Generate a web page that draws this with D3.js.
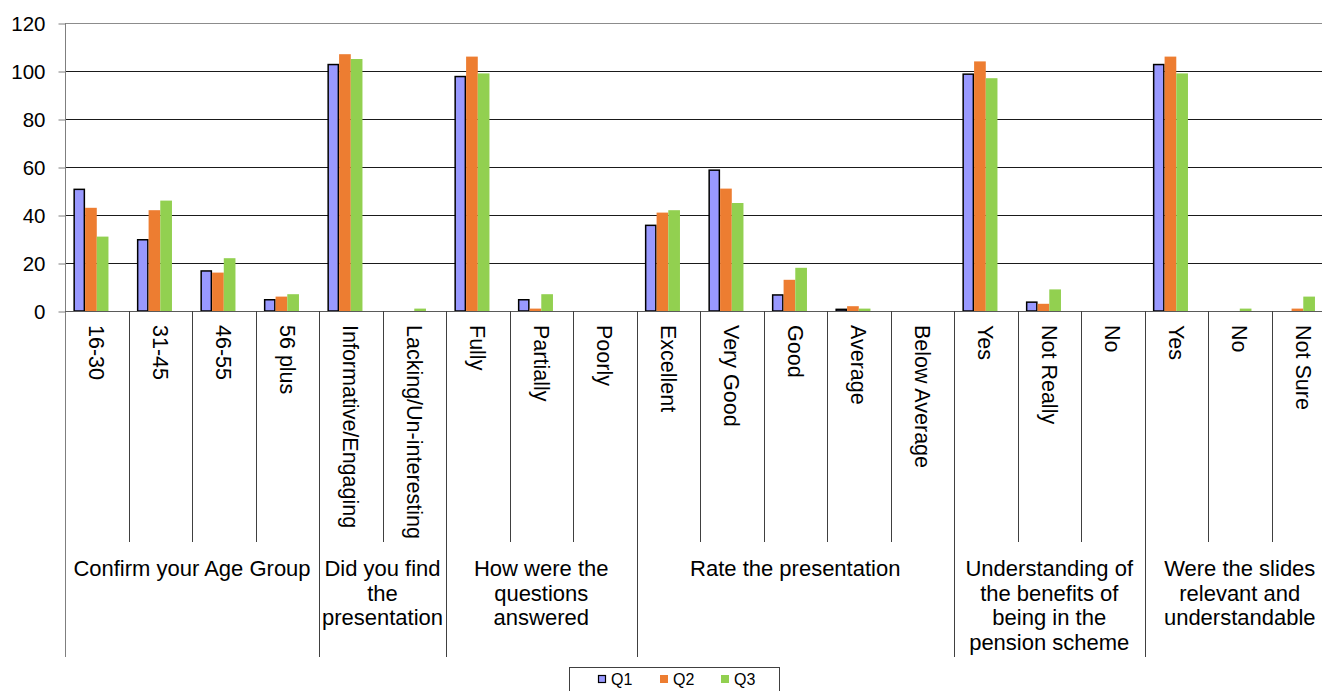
<!DOCTYPE html>
<html>
<head>
<meta charset="utf-8">
<script src="https://cdn.jsdelivr.net/npm/d3@7"></script>
<style>
  html, body { margin: 0; padding: 0; background: #fff; }
  svg { display: block; font-family: "Liberation Sans", Arial, sans-serif; }
</style>
</head>
<body>
<svg id="chart" width="1322" height="691"></svg>
<script>
// ---- data ----
const categories = [
  "16-30", "31-45", "46-55", "56 plus",
  "Informative/Engaging", "Lacking/Un-interesting",
  "Fully", "Partially", "Poorly",
  "Excellent", "Very Good", "Good", "Average", "Below Average",
  "Yes", "Not Really", "No",
  "Yes", "No", "Not Sure"
];
const groups = [
  "Confirm your Age Group",
  "Did you find the presentation",
  "How were the questions answered",
  "Rate the presentation",
  "Understanding of the benefits of being in the pension scheme",
  "Were the slides relevant and understandable"
];
const groupSizes = [4, 2, 3, 5, 3, 3];
const seriesNames = ["Q1", "Q2", "Q3"];
const q1 = [51, 30, 17, 5, 103, 0, 98, 5, 0, 36, 59, 7, 1, 0, 99, 4, 0, 103, 0, 0];
const q2 = [43, 42, 16, 6, 107, 0, 106, 1, 0, 41, 51, 13, 2, 0, 104, 3, 0, 106, 0, 1];
const q3 = [31, 46, 22, 7, 105, 1, 99, 7, 0, 42, 45, 18, 1, 0, 97, 9, 0, 99, 1, 6];
const yTicks = [0, 20, 40, 60, 80, 100, 120];
const seriesColors = ["#9999FF", "#ED7D31", "#92D050"];

const seriesValues = [q1, q2, q3];

// ---- layout ----
const svg = d3.select("#chart");
const plotLeft = 65, plotRight = 1335, plotTop = 23, plotBottom = 311;
const catLabelBottom = 542, groupBottom = 657;

const x = d3.scaleBand().domain(d3.range(categories.length)).range([plotLeft, plotRight]).padding(0);
const bw = x.bandwidth();
const xs = d3.scaleBand().domain(seriesNames)
  .range([bw * 0.1325, bw * 0.1325 + 3 * bw * 0.184]).padding(0);
const y = d3.scaleLinear().domain([0, 120]).range([plotBottom, plotTop]);

const textColor = "#000";

// gridlines
svg.append("g").selectAll("line").data(yTicks.filter(d => d > 0)).join("line")
  .attr("x1", plotLeft).attr("x2", plotRight)
  .attr("y1", d => Math.round(y(d)) + 0.5).attr("y2", d => Math.round(y(d)) + 0.5)
  .attr("stroke", d => d === 120 ? "#8c8c8c" : "#1a1a1a")
  .attr("stroke-width", 1);

// y axis
const yAxis = d3.axisLeft(y).tickValues(yTicks).tickSize(7).tickPadding(13).tickFormat(d3.format("d"));
const gy = svg.append("g").attr("transform", `translate(${plotLeft + 0.5},0)`).call(yAxis);
gy.select(".domain").attr("stroke", "#7f7f7f").attr("d", `M0,${plotTop}V${groupBottom}`);
gy.selectAll(".tick line").attr("stroke", "#7f7f7f").attr("transform", "translate(0,0.5)");
gy.selectAll(".tick text").attr("font-size", 20.5).attr("fill", textColor)
  .attr("font-family", "'Liberation Sans', Arial, sans-serif").attr("dy", "0.36em");

// bars
const barG = svg.append("g");
seriesNames.forEach((s, si) => {
  barG.append("g").selectAll("rect").data(seriesValues[si]).join("rect")
    .attr("x", (d, i) => x(i) + xs(s) + (si === 0 ? 0.75 : 0))
    .attr("width", xs.bandwidth() - (si === 0 ? 1.5 : 0))
    .attr("y", d => y(d) + (si === 0 ? 0.75 : 0))
    .attr("height", d => Math.max(0, plotBottom - y(d) - (si === 0 ? 0.75 : 0)))
    .attr("fill", seriesColors[si])
    .attr("stroke", si === 0 ? "#000" : "none")
    .attr("stroke-width", si === 0 ? 1.5 : 0);
});

// baseline
svg.append("line").attr("x1", plotLeft).attr("x2", plotRight)
  .attr("y1", plotBottom + 0.5).attr("y2", plotBottom + 0.5)
  .attr("stroke", "#5a5a5a").attr("stroke-width", 1);

// group boundaries
const groupStarts = [];
let acc = 0;
groupSizes.forEach(n => { groupStarts.push(acc); acc += n; });
const isGroupStart = new Set(groupStarts);
isGroupStart.add(categories.length);

// category dividers
const divIdx = d3.range(1, categories.length + 1);
svg.append("g").selectAll("line").data(divIdx).join("line")
  .attr("x1", i => Math.round(i < categories.length ? x(i) : plotRight) + 0.5)
  .attr("x2", i => Math.round(i < categories.length ? x(i) : plotRight) + 0.5)
  .attr("y1", plotBottom)
  .attr("y2", i => isGroupStart.has(i) ? groupBottom : catLabelBottom)
  .attr("stroke", "#404040").attr("stroke-width", 1);

// category labels (rotated)
svg.append("g").selectAll("text").data(categories).join("text")
  .attr("transform", (d, i) => `translate(${x(i) + bw / 2},${plotBottom + 14}) rotate(90)`)
  .attr("text-anchor", "start")
  .attr("dy", "0.35em")
  .attr("font-size", 21.5)
  .attr("fill", textColor)
  .text(d => d);

// group labels with wrapping
const gl = svg.append("g");
groups.forEach((g, gi) => {
  const start = groupStarts[gi], n = groupSizes[gi];
  const x0 = x(start), x1 = start + n < categories.length ? x(start + n) : plotRight;
  const cx = (x0 + x1) / 2;
  const maxW = (x1 - x0) - 4;
  const t = gl.append("text").attr("font-size", 22).attr("fill", textColor)
    .attr("text-anchor", "middle");
  const words = g.split(" ");
  let lines = [], line = [];
  const probe = t.append("tspan");
  words.forEach(w => {
    const test = line.concat([w]).join(" ");
    probe.text(test);
    if (probe.node().getComputedTextLength() > maxW && line.length) {
      lines.push(line.join(" "));
      line = [w];
    } else line.push(w);
  });
  lines.push(line.join(" "));
  probe.remove();
  lines.forEach((ln, li) => {
    t.append("tspan").attr("x", cx).attr("y", 576 + li * 24.7).text(ln);
  });
});

// legend
const lg = svg.append("g");
lg.append("rect").attr("x", 569.5).attr("y", 667.5).attr("width", 210).attr("height", 28)
  .attr("fill", "#fff").attr("stroke", "#404040").attr("stroke-width", 1);
const legX = [598, 660, 721];
seriesNames.forEach((s, si) => {
  lg.append("rect").attr("x", legX[si] + (si === 0 ? 0.5 : 0)).attr("y", 675 + (si === 0 ? 0.5 : 0))
    .attr("width", si === 0 ? 7 : 8).attr("height", si === 0 ? 7 : 8)
    .attr("fill", seriesColors[si])
    .attr("stroke", si === 0 ? "#000" : "none").attr("stroke-width", 1.2);
  lg.append("text").attr("x", legX[si] + 13).attr("y", 679).attr("dy", "0.35em")
    .attr("font-size", 16).attr("fill", textColor).text(s);
});
</script>
</body>
</html>
